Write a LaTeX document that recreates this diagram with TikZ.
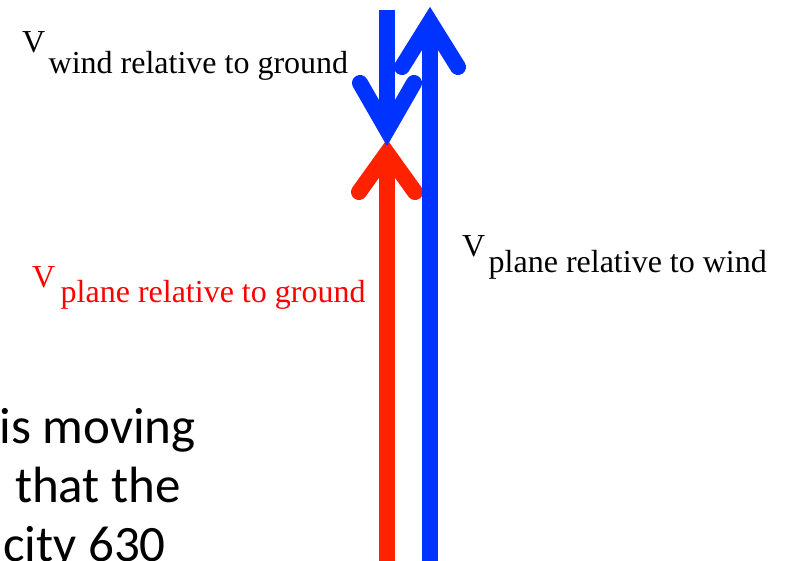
\documentclass[tikz,border=0pt]{standalone}
\usepackage{fontspec}
\setmainfont{Liberation Serif}
\newfontfamily\slidefont{Carlito}
\usetikzlibrary{calc,positioning}
\definecolor{vecblue}{RGB}{0,51,255}
\definecolor{vecred}{RGB}{255,34,0}
\definecolor{labelred}{RGB}{255,0,0}
\tikzset{
  shaft/.style={line width=16pt, line cap=butt},
  barb/.style={line width=16pt, line cap=round, line join=miter},
  vletter/.style={inner sep=0pt, anchor=base west, font=\fontsize{32}{36}\selectfont},
  vsub/.style={inner sep=0pt, anchor=base west, font=\fontsize{32}{36}\selectfont},
  slide text/.style={inner sep=0pt, anchor=base east, font=\slidefont\fontsize{51}{60}\selectfont}
}

\begin{document}
\begin{tikzpicture}[x=1pt,y=-1pt]
  \useasboundingbox (0,0) rectangle (790,561);
  \clip (0,0) rectangle (790,561);

  % cut-off slide text
  \node[slide text] (line_a) at (196,443) {is moving};
  \node[slide text] (line_b) at (181,502) {that the};
  \node[slide text] (line_c) at (166,561) {city 630};

  % plane relative to ground
  \coordinate (red_tail) at (387,561);
  \coordinate (red_tip) at (387,153);
  \draw[shaft,vecred] (red_tail) -- (red_tip);
  \draw[barb,vecred] ($(red_tip)+(-28,39)$) -- (red_tip) -- ($(red_tip)+(28,39)$);

  % plane relative to wind
  \coordinate (plane_tail) at (430,561);
  \coordinate (plane_tip) at (430,22);
  \draw[shaft,vecblue] (plane_tail) -- (plane_tip);
  \draw[barb,vecblue] ($(plane_tip)+(-28,45)$) -- (plane_tip) -- ($(plane_tip)+(28,45)$);

  % wind relative to ground
  \coordinate (wind_tail) at (387,10);
  \coordinate (wind_tip) at (387,130);
  \draw[shaft,vecblue] (wind_tail) -- (wind_tip);
  \draw[barb,vecblue] ($(wind_tip)+(-27,-47)$) -- (wind_tip) -- ($(wind_tip)+(27,-47)$);

  % labels
  \node[vletter] (wind_v) at (22,53) {V};
  \node[vsub] (wind_sub) at ($(wind_v.base east)+(3,21)$) {wind relative to ground};

  \node[vletter] (pw_v) at (462,257) {V};
  \node[vsub] (pw_sub) at ($(pw_v.base east)+(3,16)$) {plane relative to wind};

  \node[vletter,labelred] (pg_v) at (32,288) {V};
  \node[vsub,labelred] (pg_sub) at ($(pg_v.base east)+(5,15)$) {plane relative to ground};
\end{tikzpicture}
\end{document}
